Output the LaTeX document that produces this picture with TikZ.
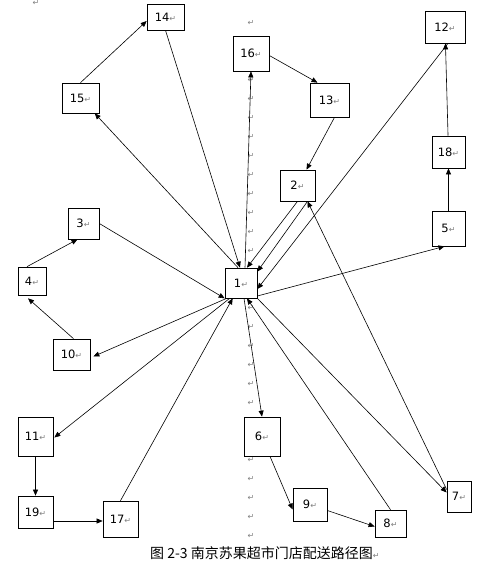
\documentclass[tikz,border=0pt]{standalone}
\usepackage{fontspec}
\setmainfont{DejaVu Sans}
\newfontfamily\markfont{DejaVu Sans}
\newfontfamily\cjkfont{Noto Sans CJK SC}
\usetikzlibrary{arrows.meta, calc}
\newcommand{\pmark}{{\markfont\color{black!50}\fontsize{8}{8}\selectfont ↵}}

\tikzset{
  shop/.style={draw, fill=white, inner sep=0pt, line width=0.7pt,
               font=\fontsize{11.5}{13}\selectfont},
  route/.style={line width=0.6pt, -{Triangle[length=6pt, width=5pt]}},
}

\begin{document}
\begin{tikzpicture}[x=1pt, y=-1pt]
  \useasboundingbox (0,0) rectangle (496,566);

  % paragraph marks of the page
  \node[inner sep=0pt] (corner) at (36,3) {\pmark};
  \foreach \y in {23,80,99,118,137,156,175,194,213,232,251,308,327,346,365,384,403,460,479,498,517,536}
    \node[inner sep=0pt] (pm\y) at (251,\y) {\pmark};

  % shops
  \node[shop, minimum width=32pt, minimum height=30pt] (n1) at (241,283) {1\pmark};
  \node[shop, minimum width=35pt, minimum height=31pt] (n2) at (297.5,185.5) {2\pmark};
  \node[shop, minimum width=31pt, minimum height=31pt] (n3) at (83.5,223.5) {3\pmark};
  \node[shop, minimum width=28pt, minimum height=28pt] (n4) at (32,281) {4\pmark};
  \node[shop, minimum width=33pt, minimum height=35pt] (n5) at (448.5,228.5) {5\pmark};
  \node[shop, minimum width=36pt, minimum height=39pt] (n6) at (262,436.5) {6\pmark};
  \node[shop, minimum width=24pt, minimum height=31pt] (n7) at (459,496.5) {7\pmark};
  \node[shop, minimum width=31pt, minimum height=27pt] (n8) at (390.5,523.5) {8\pmark};
  \node[shop, minimum width=34pt, minimum height=33pt] (n9) at (310,504.5) {9\pmark};
  \node[shop, minimum width=37pt, minimum height=31pt] (n10) at (71.5,354.5) {10\pmark};
  \node[shop, minimum width=35pt, minimum height=39pt] (n11) at (35.5,436.5) {11\pmark};
  \node[shop, minimum width=40pt, minimum height=32pt] (n12) at (445,27) {12\pmark};
  \node[shop, minimum width=39pt, minimum height=34pt] (n13) at (329.5,100) {13\pmark};
  \node[shop, minimum width=37pt, minimum height=26pt] (n14) at (165.5,17) {14\pmark};
  \node[shop, minimum width=37pt, minimum height=30pt] (n15) at (80.5,98) {15\pmark};
  \node[shop, minimum width=36pt, minimum height=35pt] (n16) at (251,53.5) {16\pmark};
  \node[shop, minimum width=35pt, minimum height=36pt] (n17) at (120.5,519) {17\pmark};
  \node[shop, minimum width=33pt, minimum height=32pt] (n18) at (448.5,152) {18\pmark};
  \node[shop, minimum width=35pt, minimum height=32pt] (n19) at (35.5,512) {19\pmark};

  % caption
  \node[anchor=west, inner sep=0pt, font=\cjkfont\fontsize{14}{16}\selectfont]
    (caption) at (150,553) {图 2-3 南京苏果超市门店配送路径图\pmark};

  % route 1-15-14-1
  \draw[route] ($(n1.north)+(-3,0)$) -- (n15);
  \draw[route] (n15.north) -- ($(n14.west)+(0,4)$);
  \draw[route] (n14.south) -- ($(n1.north)+(-1,0)$);
  % route 1-16-13-2-1
  \draw[route] ($(n1.north)+(4,0)$) -- (n16.south);
  \draw[route] ($(n16.east)+(0,2)$) -- ($(n13.north)+(-12,0)$);
  \draw[route] ($(n13.south)+(5,0)$) -- ($(n2.north)+(9,0)$);
  \draw[route] (n2.south) -- ($(n1.north)+(6,0)$);
  % route 1-7-2-1
  \draw[route] (n1.south east) -- ($(n7.west)+(0,-4)$);
  \draw[route] ($(n7.west)+(0,-7)$) -- ($(n2.south)+(10,0)$);
  \draw[route] ($(n2.south)+(10,0)$) -- ($(n1.north east)+(0,4)$);
  % route 1-5-18-12-1
  \draw[route] ($(n1.east)+(0,13)$) -- ($(n5.south)+(-4,0)$);
  \draw[route] (n5) -- (n18);
  \draw[route] (n18) -- (n12);
  \draw[route] ($(n12.south)+(3,0)$) -- ($(n1.east)+(0,6)$);
  % route 1-6-9-8-1
  \draw[route] ($(n1.south)+(3,0)$) -- (n6.north);
  \draw[route] ($(n6.south)+(8,0)$) -- ($(n9.west)+(0,5)$);
  \draw[route] ($(n9.east)+(0,6)$) -- ($(n8.west)+(0,3)$);
  \draw[route] (n8.north) -- ($(n1.south)+(6,0)$);
  % route 1-10-4-3-1
  \draw[route] ($(n1.south west)+(2,0)$) -- ($(n10.east)+(3,2)$);
  \draw[route] ($(n10.north)+(2,0)$) -- ($(n4.south)+(-4,3)$);
  \draw[route] ($(n4.north)+(-5,0)$) -- ($(n3.south)+(-6,0)$);
  \draw[route] (n3.east) -- (n1.south west);
  % route 1-11-19-17-1
  \draw[route] ($(n1.south west)+(5,0)$) -- ($(n11.east)+(1,1)$);
  \draw[route] (n11) -- (n19);
  \draw[route] ($(n19.east)+(0,9)$) -- ($(n17.west)+(0,2)$);
  \draw[route] (n17.north) -- ($(n1.south west)+(8,0)$);
\end{tikzpicture}
\end{document}
